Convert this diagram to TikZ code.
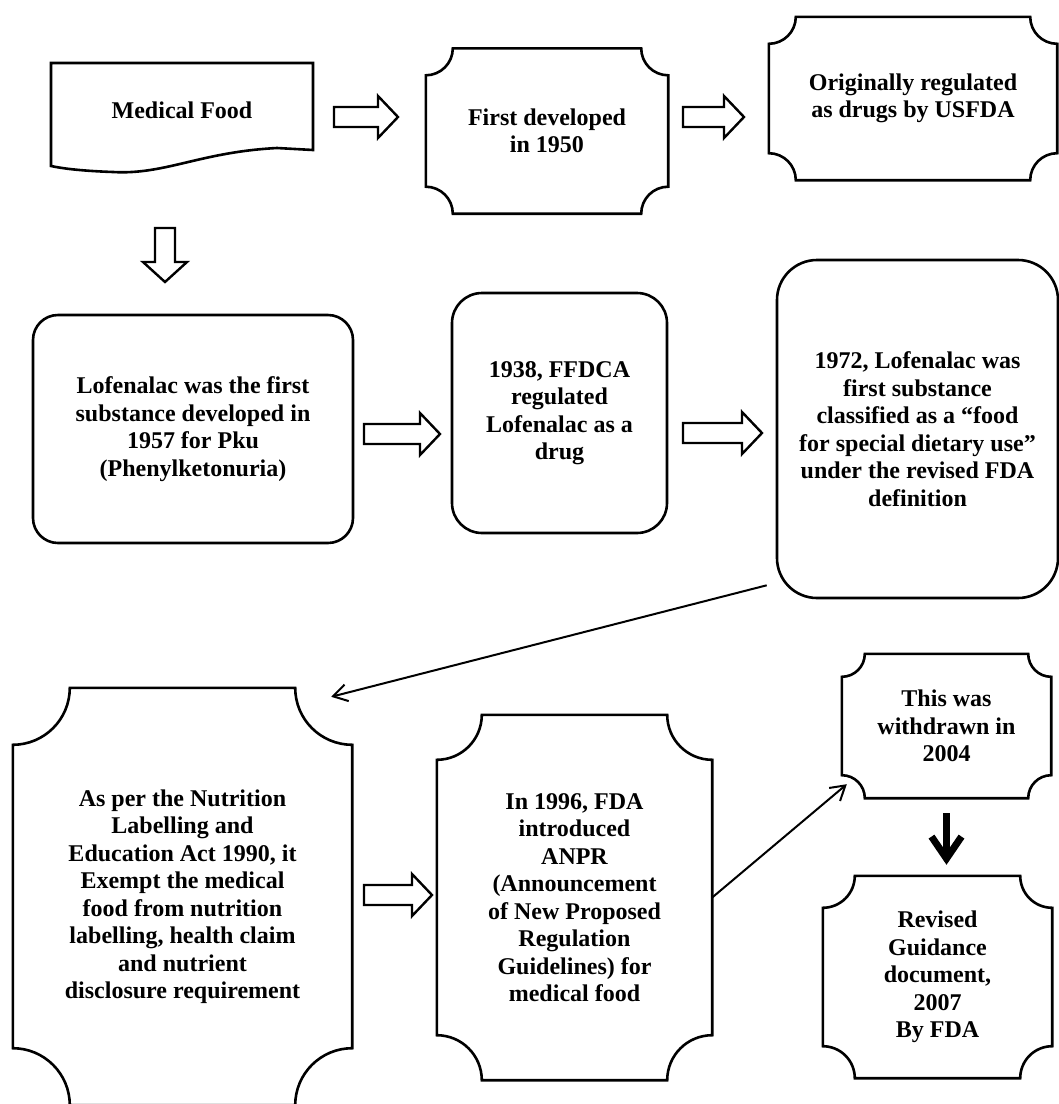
\documentclass[tikz,border=0pt]{standalone}
\usepackage{fontspec}
\setmainfont{Liberation Serif}
\usetikzlibrary{arrows.meta,calc}
\newcommand\plq[2]{%
  \draw[boxline] let \p1=(#1.north west), \p2=(#1.south east) in
    (\x1,\y1-#2pt) arc[start angle=270,end angle=360,radius=#2pt]
    -- (\x2-#2pt,\y1) arc[start angle=180,end angle=270,radius=#2pt]
    -- (\x2,\y2+#2pt) arc[start angle=90,end angle=180,radius=#2pt]
    -- (\x1+#2pt,\y2) arc[start angle=0,end angle=90,radius=#2pt] -- cycle;}
\newcommand\barrR[2]{%
  \draw[blk] let \p1=(#1), \p2=(#2) in
    (\x1,\y1+10pt) -- (\x2-20pt,\y1+10pt) -- (\x2-20pt,\y1+21pt) -- (\x2,\y1)
    -- (\x2-20pt,\y1-21pt) -- (\x2-20pt,\y1-10pt) -- (\x1,\y1-10pt) -- cycle;}
\newcommand\barrD[2]{%
  \draw[blk] let \p1=(#1), \p2=(#2) in
    (\x1-10pt,\y1) -- (\x1-10pt,\y2+20pt) -- (\x1-22pt,\y2+20pt) -- (\x1,\y2)
    -- (\x1+22pt,\y2+20pt) -- (\x1+10pt,\y2+20pt) -- (\x1+10pt,\y1) -- cycle;}
\begin{document}
\begin{tikzpicture}[x=1pt,y=1pt,
  txt/.style={font=\bfseries\fontsize{24}{27.5}\selectfont, align=center, inner sep=0pt},
  boxline/.style={line width=2.6pt, line join=miter},
  rbox/.style={txt, draw, line width=2.6pt},
  blk/.style={draw, line width=2.4pt, fill=white, line join=miter},
  conn/.style={line width=2pt, -{Straight Barb[length=14pt,width=17pt]}},
  boldarr/.style={line width=7pt, -{Straight Barb[length=22pt,width=30pt]}}
]
\useasboundingbox[fill=white] (0,0) rectangle (1059,-1104);

% nodes
\node[txt, minimum width=262pt, minimum height=94pt] (med) at (182,-110) {Medical Food};
\node[txt, minimum width=242pt, minimum height=165pt] (first) at (547,-131) {First developed\\in 1950};
\node[txt, minimum width=288pt, minimum height=163pt] (orig) at (913,-98.5) {Originally regulated\\as drugs by USFDA};
\node[rbox, rounded corners=25pt, minimum width=320pt, minimum height=228pt] (lof) at (193,-429)
  {Lofenalac was the first\\substance developed in\\1957 for Pku\\(Phenylketonuria)};
\node[rbox, rounded corners=30pt, minimum width=215pt, minimum height=240pt] (ffdca) at (559.5,-413)
  {1938, FFDCA\\regulated\\Lofenalac as a\\drug};
\node[rbox, rounded corners=40pt, minimum width=281pt, minimum height=338pt] (y1972) at (917.5,-429)
  {1972, Lofenalac was\\first substance\\classified as a “food\\for special dietary use”\\under the revised FDA\\definition};
\node[txt, minimum width=339pt, minimum height=417pt] (nut) at (182.5,-896.5)
  {As per the Nutrition\\Labelling and\\Education Act 1990, it\\Exempt the medical\\food from nutrition\\labelling, health claim\\and nutrient\\disclosure requirement};
\node[txt, minimum width=275pt, minimum height=365pt] (anpr) at (574.5,-897.5)
  {In 1996, FDA\\introduced\\ANPR\\(Announcement\\of New Proposed\\Regulation\\Guidelines) for\\medical food};
\node[txt, minimum width=209pt, minimum height=144pt] (wd) at (946.5,-726) {This was\\withdrawn in\\2004};
\node[txt, minimum width=229pt, minimum height=202pt] (rev) at (937.5,-977) {Revised\\Guidance\\document,\\2007\\By FDA};

% shapes
\draw[boxline] (51,-63) -- (313,-63) -- (313,-150) -- (277,-148)
  .. controls (200,-152) and (165,-175) .. (113,-172)
  .. controls (85,-171) and (65,-169) .. (51,-166) -- cycle;
\plq{first}{27}
\plq{orig}{27}
\plq{nut}{57}
\plq{anpr}{45}
\plq{wd}{23}
\plq{rev}{32}

% block arrows
\coordinate (a1s) at (334,-117); \coordinate (a1e) at (398,-117);
\coordinate (a2s) at (683,-117); \coordinate (a2e) at (744,-117);
\coordinate (a3s) at (165,-228); \coordinate (a3e) at (165,-282);
\coordinate (a4s) at (364,-434); \coordinate (a4e) at (440,-434);
\coordinate (a5s) at (683,-433); \coordinate (a5e) at (762,-433);
\coordinate (a6s) at (364,-895); \coordinate (a6e) at (432,-895);
\barrR{a1s}{a1e}
\barrR{a2s}{a2e}
\barrD{a3s}{a3e}
\barrR{a4s}{a4e}
\barrR{a5s}{a5e}
\barrR{a6s}{a6e}

% thin connectors
\draw[conn] ([shift={(-9pt,14pt)}]y1972.south west) -- ([shift={(-21pt,-9pt)}]nut.north east);
\draw[conn] (anpr.east) -- ([shift={(5pt,14pt)}]wd.south west);

% heavy arrow
\coordinate (hv) at (wd.south |- rev.north);
\draw[boldarr] ([yshift=-15pt]wd.south) -- ([yshift=11pt]hv);
\end{tikzpicture}
\end{document}
